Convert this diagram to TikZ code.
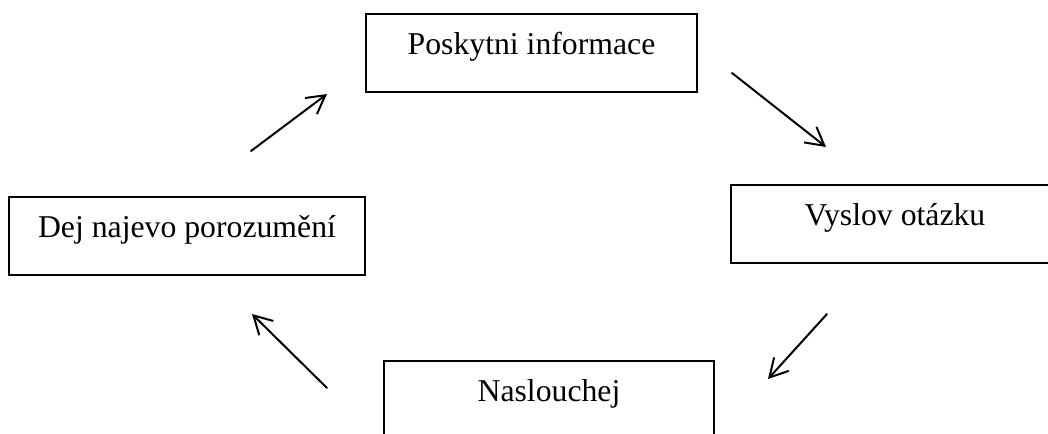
\documentclass[tikz,border=0pt]{standalone}
\usepackage{fontspec}
\setmainfont{Liberation Serif}
\usetikzlibrary{arrows.meta}
\begin{document}
\begin{tikzpicture}[x=0.75pt,y=-0.75pt,
  stepbox/.style={draw, line width=1.5pt, inner xsep=0pt, inner ysep=0pt, outer sep=0pt,
    text height=30pt, text depth=28.5pt, anchor=north west,
    font=\fontsize{23.8}{28}\selectfont},
  flow/.style={line width=1.5pt, line cap=round,
    -{Straight Barb[length=13.5pt,width=15pt,line width=1.5pt]}}]
\useasboundingbox (0,0) rectangle (1048,433);
\clip (0,0) rectangle (1048,433);
\fill[white] (0,0) rectangle (1048,433);

\node[stepbox, minimum width=248.25pt] (pos) at (366,14) {Poskytni informace};
\node[stepbox, minimum width=246pt] (vys) at (731,185) {Vyslov otázku};
\node[stepbox, minimum width=267pt] (dej) at (9,197) {Dej najevo porozumění};
\node[stepbox, minimum width=247.5pt] (nas) at (384,361) {Naslouchej};

\coordinate (a1s) at (251,151); \coordinate (a1e) at (327,94);
\coordinate (a2s) at (732,73);  \coordinate (a2e) at (826,147);
\coordinate (a3s) at (827,314); \coordinate (a3e) at (768,379);
\coordinate (a4s) at (327,388); \coordinate (a4e) at (252,314);

\draw[flow] (a1s) -- (a1e);
\draw[flow] (a2s) -- (a2e);
\draw[flow] (a3s) -- (a3e);
\draw[flow] (a4s) -- (a4e);
\end{tikzpicture}
\end{document}
